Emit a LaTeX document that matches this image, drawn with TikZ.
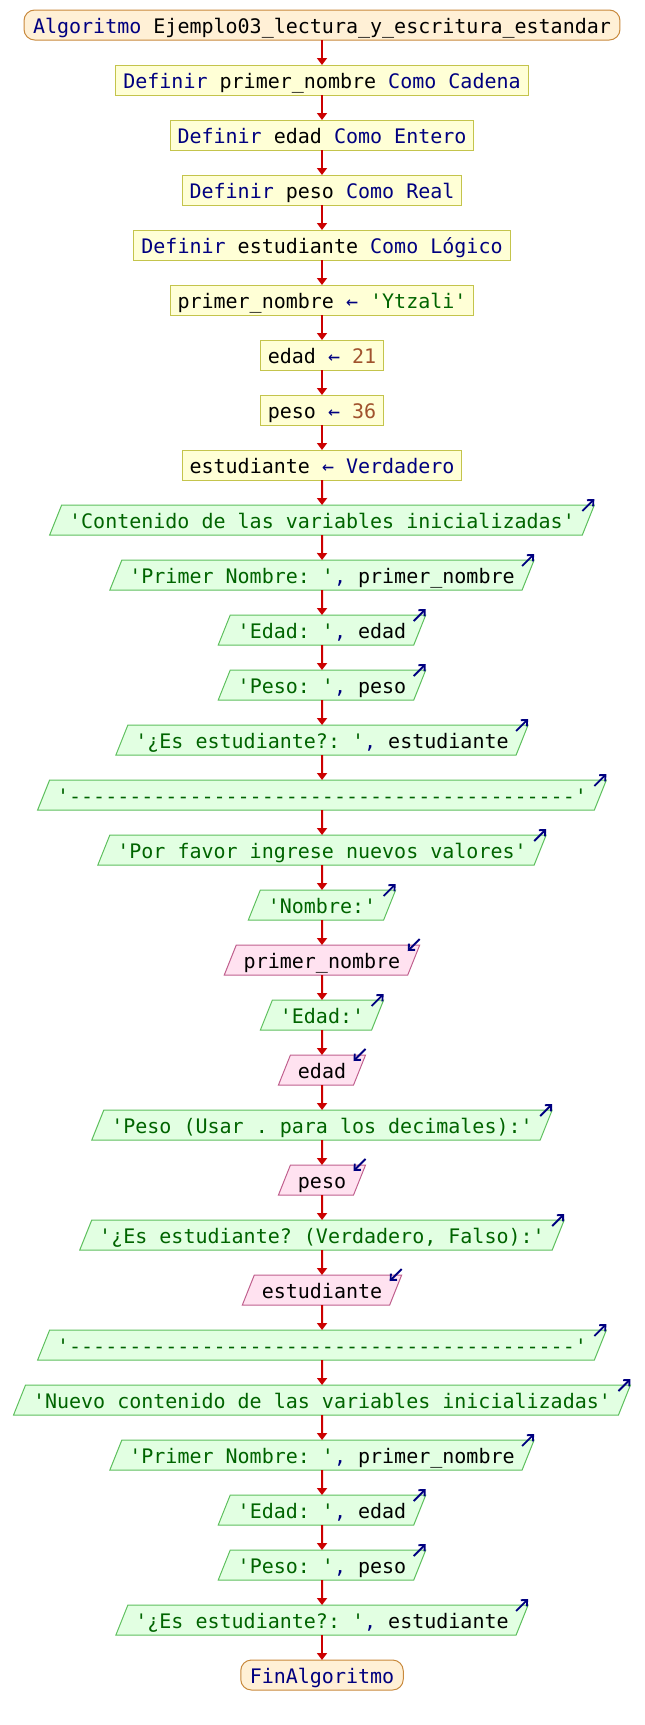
\documentclass[tikz,border=0pt]{standalone}
\usepackage{fontspec}
\setmonofont{DejaVu Sans Mono}
\usetikzlibrary{arrows.meta,shapes.geometric}
\definecolor{psNavy}{HTML}{000080}
\definecolor{psString}{HTML}{006400}
\definecolor{psNumber}{HTML}{A0522D}
\definecolor{psRed}{HTML}{CC0000}
\definecolor{psStartFill}{HTML}{FFF0D6}
\definecolor{psStartLine}{HTML}{C8893C}
\definecolor{psDefFill}{HTML}{FFFFD6}
\definecolor{psDefLine}{HTML}{C4C44C}
\definecolor{psOutFill}{HTML}{E2FFE2}
\definecolor{psOutLine}{HTML}{5EC05E}
\definecolor{psInFill}{HTML}{FFE2F0}
\definecolor{psInLine}{HTML}{C0608E}
\tikzset{
  ps diagram/.style={
    line width=0.75pt,
    every node/.style={font=\ttfamily\fontsize{15}{18}\selectfont,
      text=black, inner ysep=0pt, outer sep=0pt,
      text height=17.25pt, text depth=5.25pt}
  },
  ps start/.style={draw=psStartLine, fill=psStartFill,
    rounded corners=8pt, inner xsep=6.75pt},
  ps def/.style={draw=psDefLine, fill=psDefFill, inner xsep=5.6pt},
  ps out/.style={trapezium, trapezium left angle=68.2,
    trapezium right angle=111.8, draw=psOutLine, fill=psOutFill,
    inner xsep=5.6pt},
  ps in/.style={ps out, draw=psInLine, fill=psInFill},
  ps flow/.style={draw=psRed, line width=1.5pt,
    -{Triangle[length=5.25pt,width=7.5pt]}},
  ps icon/.style={draw=psNavy, line width=1.4pt,
    -{Straight Barb[length=3.5pt,width=6.5pt]}}
}
\begin{document}
\frenchspacing
\begin{tikzpicture}[ps diagram,x=0.75pt,y=0.75pt]
    \useasboundingbox (0,0) rectangle (644,-1725);
    % declaraciones
    \node[ps start] (inicio) at (322,-25) {\textcolor{psNavy}{Algoritmo} Ejemplo03\_lectura\_y\_escritura\_estandar};
    \node[ps def] (defNombre) at (322,-80) {\textcolor{psNavy}{Definir} primer\_nombre \textcolor{psNavy}{Como Cadena}};
    \node[ps def] (defEdad) at (322,-135) {\textcolor{psNavy}{Definir} edad \textcolor{psNavy}{Como Entero}};
    \node[ps def] (defPeso) at (322,-190) {\textcolor{psNavy}{Definir} peso \textcolor{psNavy}{Como Real}};
    \node[ps def] (defEst) at (322,-245) {\textcolor{psNavy}{Definir} estudiante \textcolor{psNavy}{Como Lógico}};
    % asignaciones
    \node[ps def] (asigNombre) at (322,-300) {primer\_nombre \textcolor{psNavy}{←} \textcolor{psString}{'Ytzali'}};
    \node[ps def] (asigEdad) at (322,-355) {edad \textcolor{psNavy}{←} \textcolor{psNumber}{21}};
    \node[ps def] (asigPeso) at (322,-410) {peso \textcolor{psNavy}{←} \textcolor{psNumber}{36}};
    \node[ps def] (asigEst) at (322,-465) {estudiante \textcolor{psNavy}{←} \textcolor{psNavy}{Verdadero}};
    % primera salida
    \node[ps out] (escTitulo) at (322,-520) {\textcolor{psString}{'Contenido de las variables inicializadas'}};
    \node[ps out] (escNombre) at (322,-575) {\textcolor{psString}{'Primer Nombre: '}\textcolor{psNavy}{,} primer\_nombre};
    \node[ps out] (escEdad) at (322,-630) {\textcolor{psString}{'Edad: '}\textcolor{psNavy}{,} edad};
    \node[ps out] (escPeso) at (322,-685) {\textcolor{psString}{'Peso: '}\textcolor{psNavy}{,} peso};
    \node[ps out] (escEst) at (322,-740) {\textcolor{psString}{'¿Es estudiante?: '}\textcolor{psNavy}{,} estudiante};
    \node[ps out] (escLinea) at (322,-795) {\textcolor{psString}{'------------------------------------------'}};
    % lectura
    \node[ps out] (escPide) at (322,-850) {\textcolor{psString}{'Por favor ingrese nuevos valores'}};
    \node[ps out] (escPideNombre) at (322,-905) {\textcolor{psString}{'Nombre:'}};
    \node[ps in] (leeNombre) at (322,-960) {primer\_nombre};
    \node[ps out] (escPideEdad) at (322,-1015) {\textcolor{psString}{'Edad:'}};
    \node[ps in] (leeEdad) at (322,-1070) {edad};
    \node[ps out] (escPidePeso) at (322,-1125) {\textcolor{psString}{'Peso (Usar . para los decimales):'}};
    \node[ps in] (leePeso) at (322,-1180) {peso};
    \node[ps out] (escPideEst) at (322,-1235) {\textcolor{psString}{'¿Es estudiante? (Verdadero, Falso):'}};
    \node[ps in] (leeEst) at (322,-1290) {estudiante};
    % segunda salida
    \node[ps out] (escLinea2) at (322,-1345) {\textcolor{psString}{'------------------------------------------'}};
    \node[ps out] (escTitulo2) at (322,-1400) {\textcolor{psString}{'Nuevo contenido de las variables inicializadas'}};
    \node[ps out] (escNombre2) at (322,-1455) {\textcolor{psString}{'Primer Nombre: '}\textcolor{psNavy}{,} primer\_nombre};
    \node[ps out] (escEdad2) at (322,-1510) {\textcolor{psString}{'Edad: '}\textcolor{psNavy}{,} edad};
    \node[ps out] (escPeso2) at (322,-1565) {\textcolor{psString}{'Peso: '}\textcolor{psNavy}{,} peso};
    \node[ps out] (escEst2) at (322,-1620) {\textcolor{psString}{'¿Es estudiante?: '}\textcolor{psNavy}{,} estudiante};
    \node[ps start] (fin) at (322,-1675) {\textcolor{psNavy}{FinAlgoritmo}};
    % flechas
    \foreach \a/\b in {inicio/defNombre, defNombre/defEdad, defEdad/defPeso, defPeso/defEst,
        defEst/asigNombre, asigNombre/asigEdad, asigEdad/asigPeso, asigPeso/asigEst,
        asigEst/escTitulo, escTitulo/escNombre, escNombre/escEdad, escEdad/escPeso,
        escPeso/escEst, escEst/escLinea, escLinea/escPide, escPide/escPideNombre,
        escPideNombre/leeNombre, leeNombre/escPideEdad, escPideEdad/leeEdad,
        leeEdad/escPidePeso, escPidePeso/leePeso, leePeso/escPideEst, escPideEst/leeEst,
        leeEst/escLinea2, escLinea2/escTitulo2, escTitulo2/escNombre2,
        escNombre2/escEdad2, escEdad2/escPeso2, escPeso2/escEst2, escEst2/fin}
      \draw[ps flow] (\a) -- (\b);
    % iconos de entrada y salida
    \foreach \n in {escTitulo, escNombre, escEdad, escPeso, escEst, escLinea, escPide,
        escPideNombre, escPideEdad, escPidePeso, escPideEst, escLinea2, escTitulo2,
        escNombre2, escEdad2, escPeso2, escEst2}
      \draw[ps icon] ([shift={(-12,-6)}]\n.top right corner) -- ++(12,12);
    \foreach \n in {leeNombre, leeEdad, leePeso, leeEst}
      \draw[ps icon] ([shift={(0,6)}]\n.top right corner) -- ++(-12,-12);
\end{tikzpicture}
\end{document}
